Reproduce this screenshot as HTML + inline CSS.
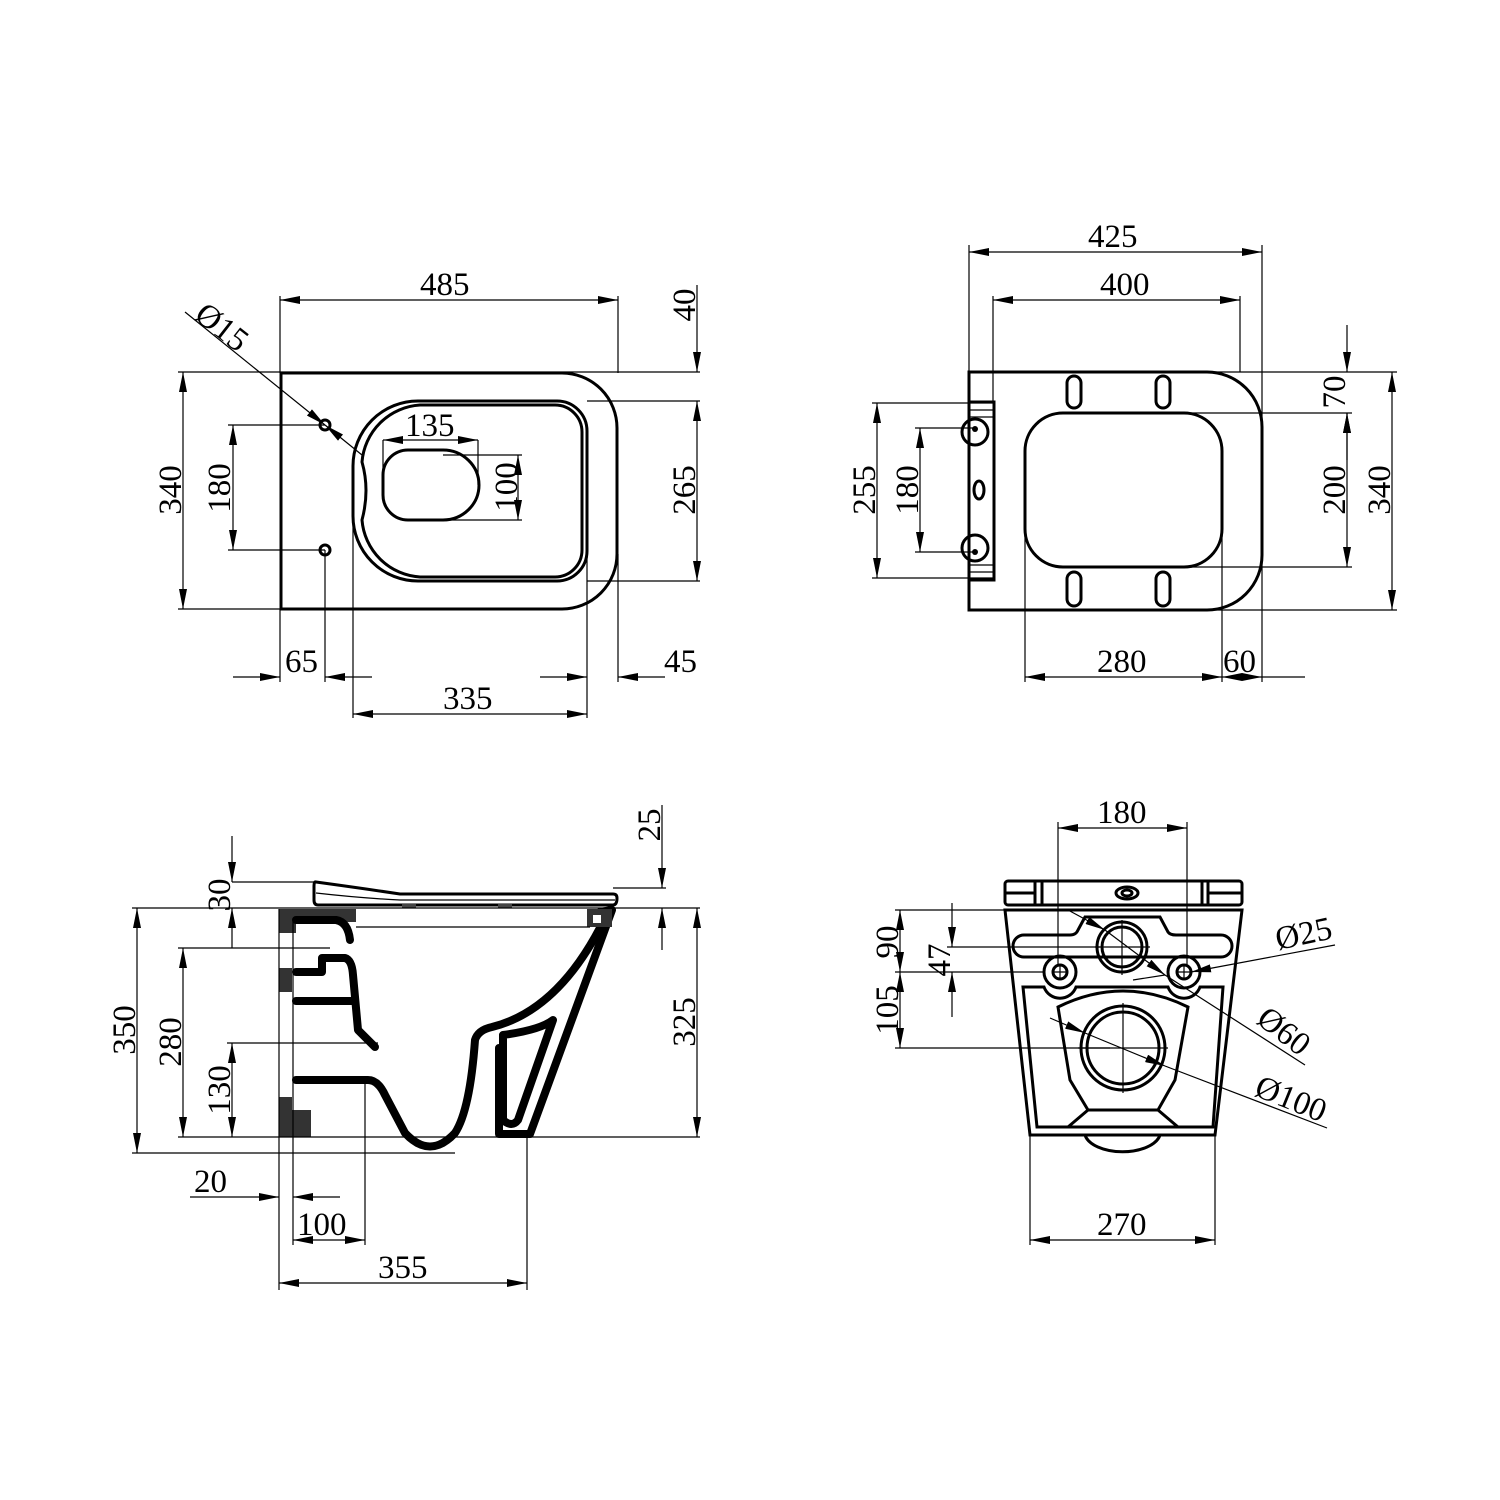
<!DOCTYPE html>
<html><head><meta charset="utf-8"><style>
html,body{margin:0;padding:0;background:#fff}
svg{display:block}
text{font-family:"Liberation Serif",serif;font-size:33px;fill:#000}
.d{stroke:#000;stroke-width:1.2;fill:none}
.o{stroke:#000;stroke-width:3;fill:none}
.w{stroke:#000;stroke-width:8;fill:none;stroke-linejoin:round;stroke-linecap:round}
</style></head><body>
<svg width="1500" height="1500" viewBox="0 0 1500 1500">
<defs>
<marker id="a" viewBox="0 0 20 8" refX="20" refY="4" markerWidth="20" markerHeight="8" markerUnits="userSpaceOnUse" orient="auto-start-reverse"><path d="M0,0 L20,4 L0,8 z" fill="#000"/></marker>
</defs>

<!-- ===== TOP LEFT ===== -->
<path class="o" d="M281,373 H562 A55,55 0 0 1 617,428 V554 A55,55 0 0 1 562,609 H281 Z"/>
<path class="o" d="M418,401 H557 A30,30 0 0 1 587,431 V551 A30,30 0 0 1 557,581 H418 A65,65 0 0 1 353,516 V466 A65,65 0 0 1 418,401 Z"/>
<path class="o" stroke-width="1.5" d="M420,405 H555 A27,27 0 0 1 582,432 V550 A27,27 0 0 1 555,577 H420 A62,62 0 0 1 362,520 Q370,490 362,462 A62,62 0 0 1 420,405 Z"/>
<path class="o" d="M408,450 H443 A36,35 0 0 1 443,520 H408 A25,25 0 0 1 383,495 V475 A25,25 0 0 1 408,450 Z"/>
<circle cx="325" cy="425" r="5" class="o" stroke-width="2"/><circle cx="325" cy="550" r="5" class="o" stroke-width="2"/>
<path class="d" d="M280,296 V373 M618,296 V373"/>
<line class="d" x1="280" y1="300" x2="618" y2="300" marker-start="url(#a)" marker-end="url(#a)"/>
<text x="420" y="295">485</text>
<path class="d" d="M178,372 H700 M178,609 H562 M228,425 H325 M228,550 H325 M587,401 H700 M587,581 H700"/>
<line class="d" x1="183" y1="372" x2="183" y2="609" marker-start="url(#a)" marker-end="url(#a)"/>
<text transform="translate(181,490) rotate(-90)" text-anchor="middle">340</text>
<line class="d" x1="233" y1="425" x2="233" y2="550" marker-start="url(#a)" marker-end="url(#a)"/>
<text transform="translate(230,488) rotate(-90)" text-anchor="middle">180</text>
<line class="d" x1="697" y1="401" x2="697" y2="581" marker-start="url(#a)" marker-end="url(#a)"/>
<text transform="translate(695,490) rotate(-90)" text-anchor="middle">265</text>
<line class="d" x1="697" y1="285" x2="697" y2="372" marker-end="url(#a)"/>
<text transform="translate(695,305) rotate(-90)" text-anchor="middle">40</text>
<path class="d" d="M280,609 V682 M325,550 V682 M353,516 V718 M587,551 V718 M618,554 V682"/>
<line class="d" x1="233" y1="677" x2="280" y2="677" marker-end="url(#a)"/>
<line class="d" x1="372" y1="677" x2="325" y2="677" marker-end="url(#a)"/>
<text x="285" y="672">65</text>
<line class="d" x1="540" y1="677" x2="587" y2="677" marker-end="url(#a)"/>
<line class="d" x1="665" y1="677" x2="618" y2="677" marker-end="url(#a)"/>
<text x="664" y="672">45</text>
<line class="d" x1="353" y1="714" x2="587" y2="714" marker-start="url(#a)" marker-end="url(#a)"/>
<text x="443" y="709">335</text>
<line class="d" x1="185" y1="312" x2="325" y2="425" marker-end="url(#a)"/>
<line class="d" x1="362" y1="455" x2="325" y2="425" marker-end="url(#a)"/>
<text transform="translate(193,318) rotate(38)">Ø15</text>
<path class="d" d="M383,440 V475 M478,440 V485 M443,455 H522 M443,520 H522"/>
<line class="d" x1="383" y1="440" x2="478" y2="440" marker-start="url(#a)" marker-end="url(#a)"/>
<text x="405" y="436">135</text>
<line class="d" x1="518" y1="455" x2="518" y2="520" marker-start="url(#a)" marker-end="url(#a)"/>
<text transform="translate(517,487) rotate(-90)" text-anchor="middle">100</text>

<!-- ===== TOP RIGHT ===== -->
<path class="o" stroke-width="3.5" d="M969,372 H1207 A55,55 0 0 1 1262,427 V555 A55,55 0 0 1 1207,610 H969 Z"/>
<rect class="o" x="969" y="402" width="25" height="178"/>
<path class="d" d="M969,410 H994 M969,417 H994 M969,565 H994 M969,572 H994"/>
<circle cx="975" cy="432" r="13" class="o" stroke-width="2.5"/><circle cx="975" cy="548" r="13" class="o" stroke-width="2.5"/>
<circle cx="975" cy="429" r="3" fill="#000"/><circle cx="975" cy="552" r="3" fill="#000"/>
<ellipse cx="979" cy="490" rx="5" ry="9" class="o" stroke-width="2"/>
<rect x="1025" y="413" width="197" height="154" rx="38" class="o" stroke-width="3.5"/>
<rect x="1067" y="376" width="14" height="32" rx="7" class="o"/><rect x="1156" y="376" width="14" height="32" rx="7" class="o"/>
<rect x="1067" y="572" width="14" height="34" rx="7" class="o"/><rect x="1156" y="572" width="14" height="34" rx="7" class="o"/>
<path class="d" d="M969,245 V372 M1262,245 V682 M993,296 V402 M1240,296 V372"/>
<line class="d" x1="969" y1="252" x2="1262" y2="252" marker-start="url(#a)" marker-end="url(#a)"/>
<text x="1088" y="247">425</text>
<line class="d" x1="993" y1="300" x2="1240" y2="300" marker-start="url(#a)" marker-end="url(#a)"/>
<text x="1100" y="295">400</text>
<path class="d" d="M1207,372 H1397 M1190,413 H1352 M1190,567 H1352 M1207,610 H1397 M872,403 H994 M915,428 H975 M915,552 H975 M872,578 H994"/>
<line class="d" x1="1347" y1="325" x2="1347" y2="372" marker-end="url(#a)"/>
<line class="d" x1="1347" y1="460" x2="1347" y2="413" marker-end="url(#a)"/>
<text transform="translate(1345,392) rotate(-90)" text-anchor="middle">70</text>
<line class="d" x1="1347" y1="413" x2="1347" y2="567" marker-start="url(#a)" marker-end="url(#a)"/>
<text transform="translate(1345,490) rotate(-90)" text-anchor="middle">200</text>
<line class="d" x1="1392" y1="372" x2="1392" y2="610" marker-start="url(#a)" marker-end="url(#a)"/>
<text transform="translate(1390,490) rotate(-90)" text-anchor="middle">340</text>
<line class="d" x1="877" y1="403" x2="877" y2="578" marker-start="url(#a)" marker-end="url(#a)"/>
<text transform="translate(875,490) rotate(-90)" text-anchor="middle">255</text>
<line class="d" x1="920" y1="428" x2="920" y2="552" marker-start="url(#a)" marker-end="url(#a)"/>
<text transform="translate(918,490) rotate(-90)" text-anchor="middle">180</text>
<path class="d" d="M1025,490 V682 M1222,490 V682"/>
<line class="d" x1="1025" y1="677" x2="1222" y2="677" marker-start="url(#a)" marker-end="url(#a)"/>
<text x="1097" y="672">280</text>
<line class="d" x1="1222" y1="677" x2="1262" y2="677" marker-start="url(#a)" marker-end="url(#a)"/>
<line class="d" x1="1262" y1="677" x2="1305" y2="677"/>
<text x="1223" y="672">60</text>

<!-- ===== BOTTOM LEFT (side) ===== -->
<path class="o" stroke-width="2.5" d="M316,882 Q360,888 400,894 H613 Q617,894 617,898 Q617,905 613,905 H318 Q314,905 314,900 V886 Q314,881 316,882 Z"/>
<path class="d" stroke-width="2" d="M316,893 Q360,898 400,900 H615"/>
<rect x="402" y="904" width="14" height="4" fill="#444"/><rect x="498" y="904" width="14" height="4" fill="#444"/>
<path d="M279,909 H356 V922 H296 V933 H279 Z" fill="#333"/>
<rect x="279" y="968" width="13" height="24" fill="#333"/>
<path d="M279,1097 H292 V1110 H311 V1137 H279 Z" fill="#333"/>
<path class="w" stroke-width="6" d="M296,920 H336 Q348,922 350,940"/>
<path class="w" stroke-width="6" d="M296,972 H322 V958 H345 Q352,960 353,975 L358,1030 L375,1047"/>
<path class="w" stroke-width="6" d="M296,1001 H353"/>
<path class="w" stroke-width="6" d="M296,1080 H368 Q378,1080 385,1095 L405,1133 Q430,1160 455,1133 Q470,1110 475,1040 Q478,1030 492,1027 Q560,1010 605,918"/>
<path class="w" stroke-width="6" d="M595,915 L600,912 L612,910 L530,1134 H499 V1048"/>
<path class="w" stroke-width="5" d="M503,1035 V1120 Q512,1128 518,1120 L553,1020 Q540,1030 503,1035"/>
<rect x="587" y="909" width="25" height="18" fill="#333"/><rect x="593" y="915" width="8" height="8" fill="#fff"/>
<path class="d" d="M356,927 H590"/>
<path class="d" stroke-width="1.6" d="M279,909 V1290 M293,920 V1245 M365,1080 V1245 M527,1137 V1290"/>
<path class="d" d="M232,882 H316 M132,908 H665 M232,948 H330 M178,948 H232 M227,1043 H378 M178,1137 H700 M132,1153 H455 M613,888 H666 M600,908 H700"/>
<line class="d" x1="232" y1="836" x2="232" y2="882" marker-end="url(#a)"/>
<line class="d" x1="232" y1="948" x2="232" y2="908" marker-end="url(#a)"/>
<text transform="translate(230,895) rotate(-90)" text-anchor="middle">30</text>
<line class="d" x1="662" y1="805" x2="662" y2="888" marker-end="url(#a)"/>
<line class="d" x1="662" y1="950" x2="662" y2="908" marker-end="url(#a)"/>
<text transform="translate(660,825) rotate(-90)" text-anchor="middle">25</text>
<line class="d" x1="137" y1="908" x2="137" y2="1153" marker-start="url(#a)" marker-end="url(#a)"/>
<text transform="translate(135,1030) rotate(-90)" text-anchor="middle">350</text>
<line class="d" x1="183" y1="948" x2="183" y2="1137" marker-start="url(#a)" marker-end="url(#a)"/>
<text transform="translate(181,1042) rotate(-90)" text-anchor="middle">280</text>
<line class="d" x1="232" y1="1043" x2="232" y2="1137" marker-start="url(#a)" marker-end="url(#a)"/>
<text transform="translate(230,1090) rotate(-90)" text-anchor="middle">130</text>
<line class="d" x1="697" y1="908" x2="697" y2="1137" marker-start="url(#a)" marker-end="url(#a)"/>
<text transform="translate(695,1022) rotate(-90)" text-anchor="middle">325</text>
<line class="d" x1="190" y1="1197" x2="279" y2="1197" marker-end="url(#a)"/>
<line class="d" x1="340" y1="1197" x2="293" y2="1197" marker-end="url(#a)"/>
<text x="194" y="1192">20</text>
<line class="d" x1="293" y1="1240" x2="365" y2="1240" marker-start="url(#a)" marker-end="url(#a)"/>
<text x="297" y="1235">100</text>
<line class="d" x1="279" y1="1283" x2="527" y2="1283" marker-start="url(#a)" marker-end="url(#a)"/>
<text x="378" y="1278">355</text>

<!-- ===== BOTTOM RIGHT (front) ===== -->
<rect x="1005" y="881" width="237" height="24" rx="3" class="o"/>
<path class="o" stroke-width="2" d="M1035,881 V905 M1042,881 V905 M1202,881 V905 M1208,881 V905 M1005,893 H1035 M1208,893 H1242"/>
<ellipse cx="1127" cy="893" rx="11" ry="6" class="o" stroke-width="2"/>
<ellipse cx="1127" cy="893" rx="5" ry="3" class="o" stroke-width="1.5"/>
<path class="o" d="M1005,910 H1242 L1215,1135 H1030 Z"/>
<path class="o" d="M1085,917 H1160 L1168,932 Q1170,935 1176,935 H1221 A11,11 0 0 1 1221,957 H1024 A11,11 0 0 1 1024,935 H1070 Q1076,935 1078,930 Z"/>
<path class="o" d="M1023,987 H1044 A17,17 0 0 0 1076,987 H1168 A17,17 0 0 0 1200,987 H1223 L1213,1127 H1037 Z"/>
<circle cx="1060" cy="972" r="16" class="o" fill="#fff"/><circle cx="1060" cy="972" r="7" class="o" stroke-width="2.5"/>
<circle cx="1184" cy="972" r="16" class="o" fill="#fff"/><circle cx="1184" cy="972" r="7" class="o" stroke-width="2.5"/>
<circle cx="1122" cy="947" r="25" class="o" fill="#fff"/><circle cx="1122" cy="947" r="20" class="o"/>
<path class="o" d="M1058,1007 Q1123,975 1188,1007 L1175,1080 L1158,1110 H1088 L1070,1080 Z"/>
<path class="o" stroke-width="2" d="M1088,1110 L1068,1127 M1158,1110 L1178,1127"/>
<circle cx="1123" cy="1048" r="42" class="o"/><circle cx="1123" cy="1048" r="36" class="o"/>
<path class="o" d="M1085,1135 A38,20 0 0 0 1160,1135"/>
<path class="d" d="M1060,965 V979 M1053,972 H1067 M1184,965 V979 M1177,972 H1191 M1122,920 V975 M1095,947 H1150 M1123,1003 V1093 M1078,1048 H1168"/>
<path class="d" d="M1058,822 V965 M1187,822 V965"/>
<line class="d" x1="1058" y1="828" x2="1187" y2="828" marker-start="url(#a)" marker-end="url(#a)"/>
<text x="1097" y="823">180</text>
<path class="d" d="M895,910 H1070 M895,972 H1045 M947,947 H1100 M895,1048 H1110"/>
<line class="d" x1="900" y1="910" x2="900" y2="972" marker-start="url(#a)" marker-end="url(#a)"/>
<text transform="translate(898,942) rotate(-90)" text-anchor="middle">90</text>
<line class="d" x1="900" y1="972" x2="900" y2="1048" marker-start="url(#a)" marker-end="url(#a)"/>
<text transform="translate(898,1010) rotate(-90)" text-anchor="middle">105</text>
<line class="d" x1="952" y1="903" x2="952" y2="947" marker-end="url(#a)"/>
<line class="d" x1="952" y1="1017" x2="952" y2="972" marker-end="url(#a)"/>
<text transform="translate(950,960) rotate(-90)" text-anchor="middle">47</text>
<line class="d" x1="1335" y1="945" x2="1191" y2="972" marker-end="url(#a)"/>
<text transform="translate(1278,950) rotate(-12)">Ø25</text>
<line class="d" x1="1068" y1="910" x2="1105" y2="930" marker-end="url(#a)"/>
<line class="d" x1="1105" y1="930" x2="1165" y2="975" marker-end="url(#a)"/>
<line class="d" x1="1133" y1="980" x2="1165" y2="975"/>
<line class="d" x1="1165" y1="975" x2="1305" y2="1065"/>
<text transform="translate(1255,1022) rotate(38)">Ø60</text>
<line class="d" x1="1050" y1="1018" x2="1085" y2="1033" marker-end="url(#a)"/>
<line class="d" x1="1085" y1="1033" x2="1165" y2="1066" marker-end="url(#a)"/>
<line class="d" x1="1165" y1="1066" x2="1327" y2="1128"/>
<text transform="translate(1253,1095) rotate(22)">Ø100</text>
<path class="d" d="M1030,1135 V1245 M1215,1135 V1245"/>
<line class="d" x1="1030" y1="1240" x2="1215" y2="1240" marker-start="url(#a)" marker-end="url(#a)"/>
<text x="1097" y="1235">270</text>
</svg>
</body></html>
